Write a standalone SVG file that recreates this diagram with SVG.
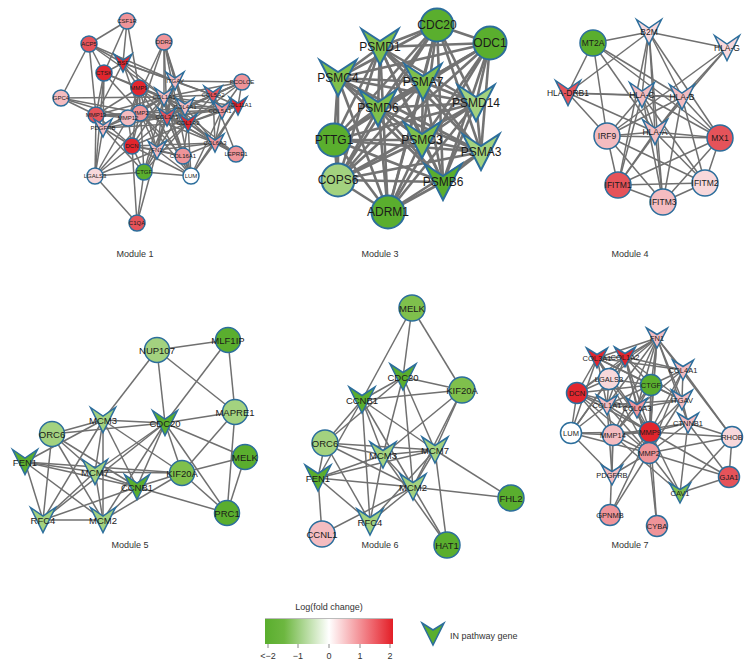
<svg xmlns="http://www.w3.org/2000/svg" xmlns:xlink="http://www.w3.org/1999/xlink" width="756" height="672" viewBox="0 0 756 672">
<style>
.e path{stroke:#707070;stroke-width:1.5;fill:none}
.e3 path{stroke:#737373;stroke-width:2.6;fill:none}
.n{stroke:#2c6e9c;stroke-width:1.5}
.n3{stroke:#2c6e9c;stroke-width:2}
.R{fill:#e2262e}.R2{fill:#e5535a}.P{fill:#ef9499}.L{fill:#f4bcc0}.W{fill:#f8d8db}.Z{fill:#ffffff}
.G{fill:#5aae2e}.M{fill:#7fc04c}.Y{fill:#a3d27f}
text{font-family:"Liberation Sans",Arial,sans-serif;text-anchor:middle;dominant-baseline:central;fill:#1a1a1a}
.t1{font-size:6px}.t3{font-size:12px}.t4{font-size:8.5px}.t5{font-size:9.5px}.t7{font-size:7.5px}
.lab{font-size:9px;fill:#333}
</style>
<defs>
<path id="v1" d="M-9,-9L0,-3L9,-9L0,9Z"/>
<path id="v3" d="M-18.5,-18L0,-6L18.5,-18L0,18Z"/>
<path id="v4" d="M-12.5,-12.5L0,-4L12.5,-12.5L0,12.5Z"/>
<path id="v6" d="M-13,-13L0,-4.5L13,-13L0,13Z"/>
<path id="v7" d="M-10.5,-10L0,-3.5L10.5,-10L0,10Z"/>
<path id="vl" d="M-11,-11L0,-4L11,-11L0,11Z"/>
<linearGradient id="grad" x1="0" y1="0" x2="1" y2="0">
<stop offset="0" stop-color="#5aae2e"/><stop offset="0.15" stop-color="#6db740"/><stop offset="0.5" stop-color="#ffffff"/><stop offset="0.85" stop-color="#ee6068"/><stop offset="1" stop-color="#e31e26"/>
</linearGradient>
</defs>
<rect width="756" height="672" fill="#fff"/>
<g id="connectors">
<g class="e" id="edges-m1">
<path d="M127 21L89 44"/><path d="M127 21L123 63"/><path d="M127 21L104 73"/><path d="M127 21L139 88"/>
<path d="M89 44L61 98"/><path d="M89 44L104 73"/><path d="M89 44L123 63"/><path d="M89 44L175 81"/><path d="M89 44L164 97"/><path d="M89 44L96 115"/>
<path d="M164 42L175 81"/><path d="M164 42L164 97"/><path d="M164 42L185 107"/><path d="M164 42L188 123"/><path d="M164 42L128 118"/><path d="M164 42L140 113"/><path d="M164 42L167 117"/><path d="M164 42L191 176"/>
<path d="M123 63L175 81"/><path d="M123 63L164 97"/><path d="M123 63L139 88"/><path d="M123 63L104 73"/><path d="M123 63L96 115"/><path d="M123 63L213 95"/><path d="M123 63L140 113"/>
<path d="M104 73L139 88"/><path d="M104 73L96 115"/><path d="M104 73L164 97"/><path d="M104 73L140 113"/><path d="M104 73L103 128"/><path d="M104 73L95 176"/>
<path d="M61 98L96 115"/><path d="M61 98L128 118"/><path d="M61 98L140 113"/><path d="M61 98L164 97"/>
<path d="M139 88L164 97"/><path d="M139 88L140 113"/><path d="M139 88L96 115"/><path d="M139 88L132 146"/><path d="M139 88L185 107"/><path d="M139 88L167 117"/><path d="M139 88L191 176"/><path d="M139 88L188 123"/><path d="M139 88L157 150"/><path d="M139 88L144 172"/><path d="M139 88L128 118"/>
<path d="M175 81L164 97"/><path d="M175 81L213 95"/><path d="M175 81L167 117"/><path d="M175 81L188 123"/><path d="M175 81L157 150"/><path d="M175 81L185 107"/><path d="M175 81L242 82"/>
<path d="M242 82L213 95"/><path d="M242 82L164 97"/><path d="M242 82L222 110"/><path d="M242 82L238 106"/><path d="M242 82L188 123"/><path d="M242 82L167 117"/><path d="M242 82L185 107"/>
<path d="M164 97L213 95"/><path d="M164 97L185 107"/><path d="M164 97L222 110"/><path d="M164 97L238 106"/><path d="M164 97L96 115"/><path d="M164 97L128 118"/><path d="M164 97L140 113"/><path d="M164 97L167 117"/><path d="M164 97L188 123"/><path d="M164 97L215 143"/><path d="M164 97L132 146"/><path d="M164 97L157 150"/><path d="M164 97L183 156"/><path d="M164 97L191 176"/><path d="M164 97L95 176"/><path d="M164 97L144 172"/><path d="M164 97L236 154"/><path d="M164 97L103 128"/>
<path d="M213 95L185 107"/><path d="M213 95L222 110"/><path d="M213 95L238 106"/><path d="M213 95L167 117"/><path d="M213 95L188 123"/><path d="M213 95L215 143"/><path d="M213 95L236 154"/>
<path d="M185 107L222 110"/><path d="M185 107L238 106"/><path d="M185 107L167 117"/><path d="M185 107L188 123"/><path d="M185 107L215 143"/><path d="M185 107L140 113"/><path d="M185 107L157 150"/>
<path d="M222 110L238 106"/><path d="M222 110L167 117"/><path d="M222 110L188 123"/><path d="M222 110L215 143"/><path d="M222 110L191 176"/><path d="M222 110L96 115"/>
<path d="M238 106L167 117"/><path d="M238 106L188 123"/><path d="M238 106L215 143"/><path d="M238 106L191 176"/>
<path d="M96 115L128 118"/><path d="M96 115L140 113"/><path d="M96 115L103 128"/><path d="M96 115L95 176"/><path d="M96 115L132 146"/><path d="M96 115L167 117"/>
<path d="M128 118L140 113"/><path d="M128 118L167 117"/><path d="M128 118L95 176"/><path d="M128 118L132 146"/>
<path d="M140 113L167 117"/><path d="M140 113L188 123"/><path d="M140 113L132 146"/><path d="M140 113L157 150"/><path d="M140 113L183 156"/><path d="M140 113L215 143"/><path d="M140 113L103 128"/><path d="M140 113L191 176"/>
<path d="M103 128L167 117"/><path d="M103 128L188 123"/><path d="M103 128L132 146"/><path d="M103 128L95 176"/><path d="M103 128L144 172"/>
<path d="M167 117L188 123"/><path d="M167 117L215 143"/><path d="M167 117L132 146"/><path d="M167 117L157 150"/><path d="M167 117L183 156"/><path d="M167 117L191 176"/><path d="M167 117L144 172"/><path d="M167 117L236 154"/>
<path d="M188 123L215 143"/><path d="M188 123L132 146"/><path d="M188 123L157 150"/><path d="M188 123L183 156"/><path d="M188 123L191 176"/><path d="M188 123L144 172"/><path d="M188 123L236 154"/>
<path d="M215 143L132 146"/><path d="M215 143L157 150"/><path d="M215 143L183 156"/><path d="M215 143L191 176"/><path d="M215 143L236 154"/>
<path d="M132 146L157 150"/><path d="M132 146L95 176"/><path d="M132 146L144 172"/><path d="M132 146L191 176"/><path d="M132 146L137 223"/><path d="M132 146L183 156"/>
<path d="M157 150L183 156"/><path d="M157 150L191 176"/><path d="M157 150L144 172"/><path d="M157 150L95 176"/><path d="M157 150L137 223"/>
<path d="M183 156L191 176"/><path d="M95 176L144 172"/><path d="M95 176L137 223"/><path d="M144 172L191 176"/><path d="M144 172L137 223"/>
</g>
<g class="e3" id="edges-m3">
<path d="M437 25L490 43"/><path d="M437 25L380 47"/><path d="M437 25L338 78"/><path d="M437 25L423 82"/><path d="M437 25L476 103"/><path d="M437 25L378 108"/><path d="M437 25L334 140"/><path d="M437 25L422 140"/><path d="M437 25L481 152"/><path d="M437 25L338 180"/><path d="M437 25L443 182"/><path d="M437 25L388 212"/>
<path d="M490 43L380 47"/><path d="M490 43L338 78"/><path d="M490 43L423 82"/><path d="M490 43L476 103"/><path d="M490 43L378 108"/><path d="M490 43L334 140"/><path d="M490 43L422 140"/><path d="M490 43L481 152"/><path d="M490 43L338 180"/><path d="M490 43L443 182"/><path d="M490 43L388 212"/>
<path d="M380 47L338 78"/><path d="M380 47L423 82"/><path d="M380 47L476 103"/><path d="M380 47L378 108"/><path d="M380 47L334 140"/><path d="M380 47L422 140"/><path d="M380 47L481 152"/><path d="M380 47L338 180"/><path d="M380 47L443 182"/><path d="M380 47L388 212"/>
<path d="M338 78L423 82"/><path d="M338 78L476 103"/><path d="M338 78L378 108"/><path d="M338 78L334 140"/><path d="M338 78L422 140"/><path d="M338 78L481 152"/><path d="M338 78L338 180"/><path d="M338 78L443 182"/><path d="M338 78L388 212"/>
<path d="M423 82L476 103"/><path d="M423 82L378 108"/><path d="M423 82L334 140"/><path d="M423 82L422 140"/><path d="M423 82L481 152"/><path d="M423 82L338 180"/><path d="M423 82L443 182"/><path d="M423 82L388 212"/>
<path d="M476 103L378 108"/><path d="M476 103L334 140"/><path d="M476 103L422 140"/><path d="M476 103L481 152"/><path d="M476 103L338 180"/><path d="M476 103L443 182"/><path d="M476 103L388 212"/>
<path d="M378 108L334 140"/><path d="M378 108L422 140"/><path d="M378 108L481 152"/><path d="M378 108L338 180"/><path d="M378 108L443 182"/><path d="M378 108L388 212"/>
<path d="M334 140L422 140"/><path d="M334 140L481 152"/><path d="M334 140L338 180"/><path d="M334 140L443 182"/><path d="M334 140L388 212"/>
<path d="M422 140L481 152"/><path d="M422 140L338 180"/><path d="M422 140L443 182"/><path d="M422 140L388 212"/>
<path d="M481 152L338 180"/><path d="M481 152L443 182"/><path d="M481 152L388 212"/>
<path d="M338 180L443 182"/><path d="M338 180L388 212"/><path d="M443 182L388 212"/>
</g>
<g class="e" id="edges-m4">
<path d="M593 43L649 32"/><path d="M649 32L727 48"/><path d="M593 43L568 93"/><path d="M593 43L607 136"/><path d="M593 43L682 97"/><path d="M593 43L720 138"/><path d="M593 43L655 132"/>
<path d="M649 32L568 93"/><path d="M649 32L642 95"/><path d="M649 32L655 132"/><path d="M649 32L682 97"/><path d="M649 32L663 202"/><path d="M649 32L618 185"/><path d="M649 32L720 138"/>
<path d="M727 48L607 136"/><path d="M727 48L655 132"/><path d="M727 48L682 97"/>
<path d="M568 93L642 95"/><path d="M568 93L682 97"/><path d="M568 93L607 136"/><path d="M568 93L655 132"/>
<path d="M642 95L682 97"/><path d="M642 95L607 136"/><path d="M642 95L655 132"/><path d="M642 95L618 185"/><path d="M642 95L663 202"/><path d="M642 95L705 183"/><path d="M642 95L720 138"/>
<path d="M682 97L607 136"/><path d="M682 97L655 132"/><path d="M682 97L720 138"/><path d="M682 97L618 185"/><path d="M682 97L663 202"/><path d="M682 97L705 183"/>
<path d="M607 136L655 132"/><path d="M607 136L720 138"/><path d="M607 136L618 185"/><path d="M607 136L663 202"/><path d="M607 136L705 183"/>
<path d="M655 132L720 138"/><path d="M655 132L618 185"/><path d="M655 132L705 183"/><path d="M655 132L663 202"/>
<path d="M720 138L618 185"/><path d="M720 138L705 183"/><path d="M720 138L663 202"/>
<path d="M618 185L705 183"/><path d="M618 185L663 202"/><path d="M705 183L663 202"/>
</g>
<g class="e" id="edges-m5">
<path d="M157 350L228 340"/><path d="M157 350L103 420"/><path d="M157 350L165 423"/><path d="M157 350L235 412"/>
<path d="M228 340L235 412"/><path d="M228 340L165 423"/><path d="M235 412L165 423"/><path d="M235 412L182 473"/><path d="M235 412L227 513"/>
<path d="M103 420L165 423"/><path d="M103 420L52 434"/><path d="M103 420L25 462"/><path d="M103 420L95 472"/><path d="M103 420L137 487"/><path d="M103 420L43 520"/><path d="M103 420L103 520"/><path d="M103 420L182 473"/>
<path d="M165 423L52 434"/><path d="M165 423L95 472"/><path d="M165 423L137 487"/><path d="M165 423L182 473"/><path d="M165 423L245 457"/><path d="M165 423L227 513"/><path d="M165 423L43 520"/><path d="M165 423L103 520"/>
<path d="M52 434L95 472"/><path d="M52 434L137 487"/><path d="M52 434L43 520"/><path d="M52 434L103 520"/>
<path d="M25 462L95 472"/><path d="M25 462L182 473"/><path d="M25 462L137 487"/><path d="M25 462L43 520"/><path d="M25 462L103 520"/>
<path d="M95 472L137 487"/><path d="M95 472L43 520"/><path d="M95 472L103 520"/><path d="M95 472L182 473"/>
<path d="M137 487L182 473"/><path d="M137 487L43 520"/><path d="M137 487L103 520"/><path d="M137 487L227 513"/>
<path d="M182 473L245 457"/><path d="M182 473L227 513"/><path d="M245 457L227 513"/><path d="M43 520L103 520"/><path d="M182 473L103 520"/>
</g>
<g class="e" id="edges-m6">
<path d="M412 308L403 377"/><path d="M412 308L462 390"/><path d="M412 308L362 400"/>
<path d="M403 377L462 390"/><path d="M403 377L362 400"/><path d="M403 377L383 455"/><path d="M403 377L413 487"/><path d="M403 377L435 450"/><path d="M403 377L325 443"/>
<path d="M462 390L362 400"/><path d="M462 390L435 450"/><path d="M462 390L413 487"/><path d="M462 390L383 455"/>
<path d="M362 400L325 443"/><path d="M362 400L383 455"/><path d="M362 400L435 450"/><path d="M362 400L413 487"/><path d="M362 400L370 522"/><path d="M362 400L318 478"/>
<path d="M325 443L383 455"/><path d="M325 443L435 450"/><path d="M325 443L318 478"/><path d="M325 443L413 487"/><path d="M325 443L370 522"/>
<path d="M383 455L435 450"/><path d="M383 455L318 478"/><path d="M383 455L413 487"/><path d="M383 455L370 522"/><path d="M383 455L447 545"/>
<path d="M435 450L318 478"/><path d="M435 450L413 487"/><path d="M435 450L370 522"/><path d="M435 450L511 498"/><path d="M435 450L447 545"/>
<path d="M318 478L413 487"/><path d="M318 478L370 522"/><path d="M318 478L322 534"/>
<path d="M413 487L370 522"/><path d="M413 487L511 498"/><path d="M413 487L447 545"/><path d="M413 487L322 534"/>
</g>
<g class="e" id="edges-m7">
<path d="M657 338L597 358"/><path d="M657 338L625 357"/><path d="M657 338L683 370"/><path d="M657 338L609 379"/><path d="M657 338L651 385"/><path d="M657 338L577 393"/><path d="M657 338L682 400"/><path d="M657 338L607 405"/><path d="M657 338L637 408"/><path d="M657 338L688 423"/><path d="M657 338L650 432"/><path d="M657 338L649 453"/><path d="M657 338L732 437"/><path d="M657 338L613 435"/>
<path d="M597 358L625 357"/><path d="M597 358L577 393"/><path d="M597 358L609 379"/><path d="M597 358L651 385"/><path d="M597 358L607 405"/><path d="M597 358L683 370"/><path d="M597 358L650 432"/><path d="M597 358L649 453"/><path d="M597 358L571 433"/><path d="M597 358L682 400"/>
<path d="M625 357L683 370"/><path d="M625 357L651 385"/><path d="M625 357L609 379"/><path d="M625 357L577 393"/><path d="M625 357L607 405"/><path d="M625 357L637 408"/><path d="M625 357L682 400"/><path d="M625 357L650 432"/><path d="M625 357L649 453"/><path d="M625 357L571 433"/>
<path d="M683 370L651 385"/><path d="M683 370L682 400"/><path d="M683 370L637 408"/><path d="M683 370L650 432"/><path d="M683 370L649 453"/><path d="M683 370L732 437"/>
<path d="M609 379L577 393"/><path d="M609 379L651 385"/><path d="M609 379L607 405"/><path d="M609 379L650 432"/><path d="M609 379L571 433"/>
<path d="M651 385L577 393"/><path d="M651 385L607 405"/><path d="M651 385L637 408"/><path d="M651 385L650 432"/><path d="M651 385L613 435"/><path d="M651 385L649 453"/><path d="M651 385L682 400"/>
<path d="M577 393L607 405"/><path d="M577 393L571 433"/><path d="M577 393L613 435"/><path d="M577 393L649 453"/><path d="M577 393L637 408"/><path d="M577 393L650 432"/>
<path d="M682 400L637 408"/><path d="M682 400L650 432"/><path d="M682 400L688 423"/><path d="M682 400L649 453"/><path d="M682 400L607 405"/>
<path d="M607 405L637 408"/><path d="M607 405L571 433"/><path d="M607 405L613 435"/><path d="M607 405L650 432"/><path d="M607 405L649 453"/><path d="M607 405L612 475"/>
<path d="M637 408L650 432"/><path d="M637 408L613 435"/><path d="M637 408L649 453"/>
<path d="M688 423L650 432"/><path d="M688 423L649 453"/><path d="M688 423L680 493"/><path d="M688 423L729 477"/><path d="M688 423L732 437"/><path d="M688 423L613 435"/>
<path d="M571 433L613 435"/><path d="M571 433L650 432"/><path d="M571 433L649 453"/><path d="M571 433L612 475"/>
<path d="M613 435L650 432"/><path d="M613 435L649 453"/><path d="M613 435L612 475"/><path d="M613 435L610 515"/><path d="M613 435L680 493"/>
<path d="M650 432L649 453"/><path d="M650 432L732 437"/><path d="M650 432L729 477"/><path d="M650 432L680 493"/><path d="M650 432L612 475"/><path d="M650 432L657 526"/><path d="M650 432L610 515"/>
<path d="M732 437L680 493"/><path d="M732 437L649 453"/><path d="M732 437L729 477"/>
<path d="M649 453L612 475"/><path d="M649 453L729 477"/><path d="M649 453L680 493"/><path d="M649 453L610 515"/><path d="M649 453L657 526"/><path d="M729 477L680 493"/>
</g>
</g>

<!-- Module 1 nodes -->
<g id="m1-csf1r"><circle class="n P" cx="127" cy="21" r="8"/><text class="t1" x="127" y="21">CSF1R</text></g>
<g id="m1-acp5"><circle class="n R2" cx="89" cy="44" r="8"/><text class="t1" x="89" y="44">ACP5</text></g>
<g id="m1-ddr2"><circle class="n P" cx="164" cy="42" r="8"/><text class="t1" x="164" y="42">DDR2</text></g>
<g id="m1-bsf"><use href="#v1" class="n R" x="123" y="63"/><text class="t1" x="123" y="63">BSF</text></g>
<g id="m1-ctsk"><circle class="n R" cx="104" cy="73" r="8"/><text class="t1" x="104" y="73">CTSK</text></g>
<g id="m1-mmp9"><circle class="n R" cx="139" cy="88" r="8"/><text class="t1" x="139" y="88">MMP9</text></g>
<g id="m1-itgav"><use href="#v1" class="n L" x="175" y="81"/><text class="t1" x="175" y="81">ITGAV</text></g>
<g id="m1-pcolce"><circle class="n P" cx="242" cy="82" r="8"/><text class="t1" x="242" y="82">PCOLCE</text></g>
<g id="m1-gpc4"><circle class="n L" cx="61" cy="98" r="8"/><text class="t1" x="61" y="98">GPC4</text></g>
<g id="m1-col1a1"><use href="#v1" class="n L" x="164" y="97"/><text class="t1" x="164" y="97">COL1A1</text></g>
<g id="m1-col5a2"><use href="#v1" class="n R2" x="213" y="95"/><text class="t1" x="213" y="95">COL5A2</text></g>
<g id="m1-col4a1"><use href="#v1" class="n L" x="185" y="107"/><text class="t1" x="185" y="107">COL4A1</text></g>
<g id="m1-col11a1"><use href="#v1" class="n R" x="238" y="106"/><text class="t1" x="239" y="105">COL11A1</text></g>
<g id="m1-col5a1"><use href="#v1" class="n P" x="222" y="110"/><text class="t1" x="220" y="111">COL5A1</text></g>
<g id="m1-mmp13"><circle class="n R2" cx="96" cy="115" r="8"/><text class="t1" x="96" y="115">MMP13</text></g>
<g id="m1-mmp2"><circle class="n P" cx="140" cy="113" r="8"/><text class="t1" x="140" y="113">MMP2</text></g>
<g id="m1-mmp12"><circle class="n L" cx="128" cy="118" r="8"/><text class="t1" x="128" y="118">MMP12</text></g>
<g id="m1-pdgfrb"><use href="#v1" class="n L" x="103" y="128"/><text class="t1" x="103" y="128">PDGFRB</text></g>
<g id="m1-col3a1"><use href="#v1" class="n R2" x="167" y="117"/><text class="t1" x="167" y="117">COL3A1</text></g>
<g id="m1-col1a2"><use href="#v1" class="n R" x="188" y="123"/><text class="t1" x="188" y="123">COL1A2</text></g>
<g id="m1-col6a3"><use href="#v1" class="n P" x="215" y="143"/><text class="t1" x="215" y="143">COL6A3</text></g>
<g id="m1-lepre1"><circle class="n P" cx="236" cy="154" r="8"/><text class="t1" x="236" y="154">LEPRE1</text></g>
<g id="m1-dcn"><circle class="n R" cx="132" cy="146" r="8"/><text class="t1" x="132" y="146">DCN</text></g>
<g id="m1-fn1"><use href="#v1" class="n L" x="157" y="150"/><text class="t1" x="157" y="150">FN1</text></g>
<g id="m1-col16a1"><circle class="n P" cx="183" cy="156" r="8"/><text class="t1" x="183" y="156">COL16A1</text></g>
<g id="m1-lgals3"><circle class="n W" cx="95" cy="176" r="8"/><text class="t1" x="95" y="176">LGALS3</text></g>
<g id="m1-ctgf"><circle class="n G" cx="144" cy="172" r="8"/><text class="t1" x="144" y="172">CTGF</text></g>
<g id="m1-lum"><circle class="n Z" cx="191" cy="176" r="8"/><text class="t1" x="191" y="176">LUM</text></g>
<g id="m1-c1qa"><circle class="n R2" cx="137" cy="223" r="8"/><text class="t1" x="137" y="223">C1QA</text></g>

<!-- Module 3 nodes -->
<g id="m3-cdc20"><circle class="n3 G" cx="437" cy="25" r="16.5"/><text class="t3" x="437" y="25">CDC20</text></g>
<g id="m3-odc1"><circle class="n3 G" cx="490" cy="43" r="16.5"/><text class="t3" x="490" y="43">ODC1</text></g>
<g id="m3-psmd1"><use href="#v3" class="n3 M" x="380" y="47"/><text class="t3" x="380" y="47">PSMD1</text></g>
<g id="m3-psmc4"><use href="#v3" class="n3 M" x="338" y="78"/><text class="t3" x="338" y="78">PSMC4</text></g>
<g id="m3-psma7"><use href="#v3" class="n3 M" x="423" y="82"/><text class="t3" x="423" y="82">PSMA7</text></g>
<g id="m3-psmd14"><use href="#v3" class="n3 Y" x="476" y="103"/><text class="t3" x="476" y="103">PSMD14</text></g>
<g id="m3-psmd6"><use href="#v3" class="n3 M" x="378" y="108"/><text class="t3" x="378" y="108">PSMD6</text></g>
<g id="m3-pttg1"><circle class="n3 G" cx="334" cy="140" r="16.5"/><text class="t3" x="334" y="140">PTTG1</text></g>
<g id="m3-psmc3"><use href="#v3" class="n3 M" x="422" y="140"/><text class="t3" x="422" y="140">PSMC3</text></g>
<g id="m3-psma3"><use href="#v3" class="n3 Y" x="481" y="152"/><text class="t3" x="481" y="152">PSMA3</text></g>
<g id="m3-cops6"><circle class="n3 Y" cx="338" cy="180" r="16.5"/><text class="t3" x="338" y="180">COPS6</text></g>
<g id="m3-psmb6"><use href="#v3" class="n3 G" x="443" y="182"/><text class="t3" x="443" y="182">PSMB6</text></g>
<g id="m3-adrm1"><circle class="n3 G" cx="388" cy="212" r="16.5"/><text class="t3" x="388" y="212">ADRM1</text></g>

<!-- Module 4 nodes -->
<g id="m4-b2m"><use href="#v4" class="n W" x="649" y="32"/><text class="t4" x="649" y="32">B2M</text></g>
<g id="m4-mt2a"><circle class="n G" cx="593" cy="43" r="13"/><text class="t4" x="593" y="43">MT2A</text></g>
<g id="m4-hlag"><use href="#v4" class="n W" x="727" y="48"/><text class="t4" x="727" y="48">HLA-G</text></g>
<g id="m4-hladrb1"><use href="#v4" class="n R2" x="568" y="93"/><text class="t4" x="568" y="93">HLA-DRB1</text></g>
<g id="m4-hlac"><use href="#v4" class="n L" x="642" y="95"/><text class="t4" x="642" y="95">HLA-C</text></g>
<g id="m4-hlab"><use href="#v4" class="n L" x="682" y="97"/><text class="t4" x="682" y="97">HLA-B</text></g>
<g id="m4-irf9"><circle class="n L" cx="607" cy="136" r="13"/><text class="t4" x="607" y="136">IRF9</text></g>
<g id="m4-hlaa"><use href="#v4" class="n L" x="655" y="132"/><text class="t4" x="655" y="132">HLA-A</text></g>
<g id="m4-mx1"><circle class="n R2" cx="720" cy="138" r="13"/><text class="t4" x="720" y="138">MX1</text></g>
<g id="m4-ifitm1"><circle class="n R2" cx="618" cy="185" r="13"/><text class="t4" x="618" y="185">IFITM1</text></g>
<g id="m4-ifitm2"><circle class="n W" cx="705" cy="183" r="13"/><text class="t4" x="705" y="183">IFITM2</text></g>
<g id="m4-ifitm3"><circle class="n L" cx="663" cy="202" r="13"/><text class="t4" x="663" y="202">IFITM3</text></g>

<!-- Module 5 nodes -->
<g id="m5-nup107"><circle class="n Y" cx="157" cy="350" r="12.5"/><text class="t5" x="157" y="350">NUP107</text></g>
<g id="m5-mlf1ip"><circle class="n G" cx="228" cy="340" r="12.5"/><text class="t5" x="228" y="340">MLF1IP</text></g>
<g id="m5-mapre1"><circle class="n Y" cx="235" cy="412" r="12.5"/><text class="t5" x="235" y="412">MAPRE1</text></g>
<g id="m5-mcm3"><use href="#v4" class="n Y" x="103" y="420"/><text class="t5" x="103" y="420">MCM3</text></g>
<g id="m5-cdc20"><use href="#v4" class="n G" x="165" y="423"/><text class="t5" x="165" y="423">CDC20</text></g>
<g id="m5-orc6"><circle class="n Y" cx="52" cy="434" r="12.5"/><text class="t5" x="52" y="434">ORC6</text></g>
<g id="m5-melk"><circle class="n G" cx="245" cy="457" r="12.5"/><text class="t5" x="245" y="457">MELK</text></g>
<g id="m5-fen1"><use href="#v4" class="n G" x="25" y="462"/><text class="t5" x="25" y="462">FEN1</text></g>
<g id="m5-mcm7"><use href="#v4" class="n Y" x="95" y="472"/><text class="t5" x="95" y="472">MCM7</text></g>
<g id="m5-kif20a"><circle class="n M" cx="182" cy="473" r="12.5"/><text class="t5" x="182" y="473">KIF20A</text></g>
<g id="m5-ccnb1"><use href="#v4" class="n G" x="137" y="487"/><text class="t5" x="137" y="487">CCNB1</text></g>
<g id="m5-prc1"><circle class="n G" cx="227" cy="513" r="12.5"/><text class="t5" x="227" y="513">PRC1</text></g>
<g id="m5-rfc4"><use href="#v4" class="n Y" x="43" y="520"/><text class="t5" x="43" y="520">RFC4</text></g>
<g id="m5-mcm2"><use href="#v4" class="n Y" x="103" y="520"/><text class="t5" x="103" y="520">MCM2</text></g>

<!-- Module 6 nodes -->
<g id="m6-melk"><circle class="n M" cx="412" cy="308" r="13"/><text class="t5" x="412" y="308">MELK</text></g>
<g id="m6-cdc20"><use href="#v6" class="n G" x="403" y="377"/><text class="t5" x="403" y="377">CDC20</text></g>
<g id="m6-kif20a"><circle class="n M" cx="462" cy="390" r="13"/><text class="t5" x="462" y="390">KIF20A</text></g>
<g id="m6-ccnb1"><use href="#v6" class="n G" x="362" y="400"/><text class="t5" x="362" y="400">CCNB1</text></g>
<g id="m6-orc6"><circle class="n Y" cx="325" cy="443" r="13"/><text class="t5" x="325" y="443">ORC6</text></g>
<g id="m6-mcm3"><use href="#v6" class="n Y" x="383" y="455"/><text class="t5" x="383" y="455">MCM3</text></g>
<g id="m6-mcm7"><use href="#v6" class="n Y" x="435" y="450"/><text class="t5" x="435" y="450">MCM7</text></g>
<g id="m6-fen1"><use href="#v6" class="n G" x="318" y="478"/><text class="t5" x="318" y="478">FEN1</text></g>
<g id="m6-mcm2"><use href="#v6" class="n Y" x="413" y="487"/><text class="t5" x="413" y="487">MCM2</text></g>
<g id="m6-rfc4"><use href="#v6" class="n Y" x="370" y="522"/><text class="t5" x="370" y="522">RFC4</text></g>
<g id="m6-ccnl1"><circle class="n L" cx="322" cy="534" r="13"/><text class="t5" x="322" y="534">CCNL1</text></g>
<g id="m6-hat1"><circle class="n G" cx="447" cy="545" r="13"/><text class="t5" x="447" y="545">HAT1</text></g>
<g id="m6-fhl2"><circle class="n G" cx="511" cy="498" r="13"/><text class="t5" x="511" y="498">FHL2</text></g>

<!-- Module 7 nodes -->
<g id="m7-fn1"><use href="#v7" class="n L" x="657" y="338"/><text class="t7" x="657" y="338">FN1</text></g>
<g id="m7-col3a1"><use href="#v7" class="n R" x="597" y="358"/><text class="t7" x="597" y="358">COL3A1</text></g>
<g id="m7-col1a2"><use href="#v7" class="n R" x="625" y="357"/><text class="t7" x="625" y="357">COL1A2</text></g>
<g id="m7-col4a1"><use href="#v7" class="n L" x="683" y="370"/><text class="t7" x="683" y="370">COL4A1</text></g>
<g id="m7-lgals3"><circle class="n W" cx="609" cy="379" r="10.5"/><text class="t7" x="609" y="379">LGALS3</text></g>
<g id="m7-ctgf"><circle class="n G" cx="651" cy="385" r="10.5"/><text class="t7" x="651" y="385">CTGF</text></g>
<g id="m7-dcn"><circle class="n R" cx="577" cy="393" r="10.5"/><text class="t7" x="577" y="393">DCN</text></g>
<g id="m7-itgav"><use href="#v7" class="n L" x="682" y="400"/><text class="t7" x="682" y="400">ITGAV</text></g>
<g id="m7-col1a1"><use href="#v7" class="n L" x="607" y="405"/><text class="t7" x="607" y="405">COL1A1</text></g>
<g id="m7-col6a3"><use href="#v7" class="n P" x="637" y="408"/><text class="t7" x="637" y="408">COL6A3</text></g>
<g id="m7-ctnnb1"><use href="#v7" class="n L" x="688" y="423"/><text class="t7" x="688" y="423">CTNNB1</text></g>
<g id="m7-lum"><circle class="n Z" cx="571" cy="433" r="10.5"/><text class="t7" x="571" y="433">LUM</text></g>
<g id="m7-mmp14"><circle class="n L" cx="613" cy="435" r="10.5"/><text class="t7" x="613" y="435">MMP14</text></g>
<g id="m7-mmp9"><circle class="n R" cx="650" cy="432" r="10.5"/><text class="t7" x="650" y="432">MMP9</text></g>
<g id="m7-rhob"><circle class="n W" cx="732" cy="437" r="10.5"/><text class="t7" x="732" y="437">RHOB</text></g>
<g id="m7-mmp2"><circle class="n P" cx="649" cy="453" r="10.5"/><text class="t7" x="649" y="453">MMP2</text></g>
<g id="m7-pdgfrb"><use href="#v7" class="n L" x="612" y="475"/><text class="t7" x="612" y="475">PDGFRB</text></g>
<g id="m7-gja1"><circle class="n R2" cx="729" cy="477" r="10.5"/><text class="t7" x="729" y="477">GJA1</text></g>
<g id="m7-cav1"><use href="#v7" class="n M" x="680" y="493"/><text class="t7" x="680" y="493">CAV1</text></g>
<g id="m7-gpnmb"><circle class="n P" cx="610" cy="515" r="10.5"/><text class="t7" x="610" y="515">GPNMB</text></g>
<g id="m7-cyba"><circle class="n P" cx="657" cy="526" r="10.5"/><text class="t7" x="657" y="526">CYBA</text></g>

<!-- Module labels -->
<g id="module-labels">
<text class="lab" x="135" y="254">Module 1</text>
<text class="lab" x="380" y="254">Module 3</text>
<text class="lab" x="630" y="254">Module 4</text>
<text class="lab" x="130" y="545">Module 5</text>
<text class="lab" x="380" y="545">Module 6</text>
<text class="lab" x="630" y="545">Module 7</text>
</g>

<!-- Legend -->
<g id="legend">
<text class="lab" x="329" y="607">Log(fold change)</text>
<rect x="265" y="618" width="128" height="26" fill="url(#grad)"/>
<line x1="265" y1="618.5" x2="393" y2="618.5" stroke="#bbbbbb" stroke-width="1"/>
<g stroke="#888" stroke-width="1">
<line x1="268" y1="644" x2="268" y2="648"/><line x1="298" y1="644" x2="298" y2="648"/><line x1="329" y1="644" x2="329" y2="648"/><line x1="360" y1="644" x2="360" y2="648"/><line x1="390" y1="644" x2="390" y2="648"/>
</g>
<text class="lab" x="268" y="656">&lt;−2</text>
<text class="lab" x="298" y="656">−1</text>
<text class="lab" x="329" y="656">0</text>
<text class="lab" x="360" y="656">1</text>
<text class="lab" x="390" y="656">2</text>
<use href="#vl" class="n G" x="433" y="634"/>
<text class="lab" x="450" y="636" style="text-anchor:start">IN pathway gene</text>
</g>
</svg>
